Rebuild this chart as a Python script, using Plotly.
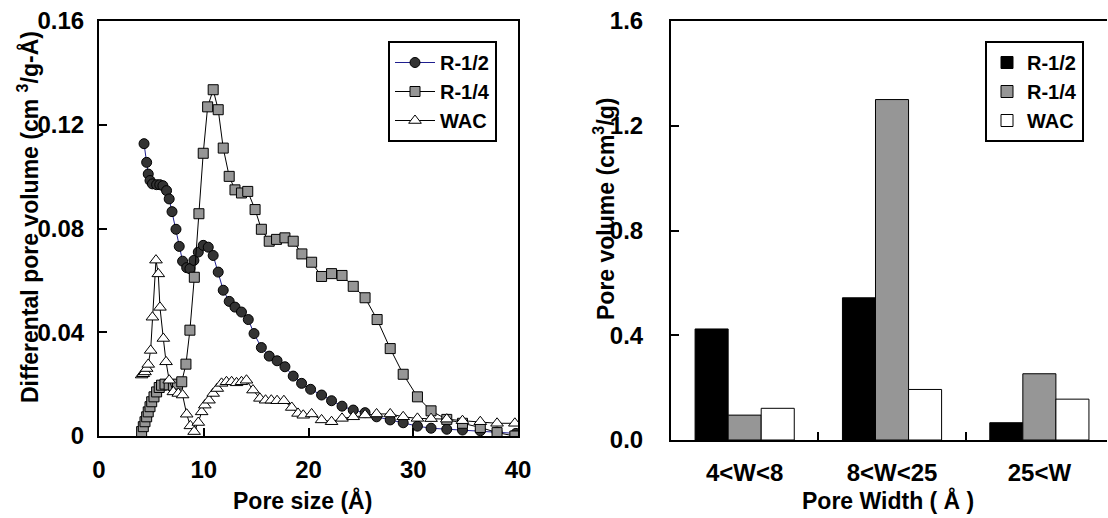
import plotly.graph_objects as go

# ---------------- data ----------------
r12_x = [4.3, 4.55, 4.7, 4.87, 5.1, 5.5, 5.8, 6.1, 6.45, 6.7, 6.97, 7.35, 7.66, 7.98, 8.37, 8.68,
         9.06, 9.48, 9.95, 10.43, 10.9, 11.38, 11.86, 12.43, 12.98, 13.6, 14.25, 14.8, 15.5, 16.25,
         17.0, 17.75, 18.54, 19.34, 20.2, 21.25, 22.2, 23.2, 24.27, 25.4, 26.5, 27.8, 29.04, 30.4,
         31.7, 33.2, 34.7, 36.4, 38.0, 39.8]
r12_y = [0.1127, 0.1055, 0.101, 0.0985, 0.0972, 0.0969, 0.0969, 0.0965, 0.0946, 0.0914, 0.0865,
         0.0797, 0.0731, 0.0674, 0.0649, 0.0645, 0.0677, 0.0709, 0.0735, 0.0728, 0.0696, 0.0632,
         0.0562, 0.0519, 0.0497, 0.0478, 0.0449, 0.0395, 0.0341, 0.0308, 0.029, 0.0267, 0.0231,
         0.0203, 0.018, 0.0158, 0.0136, 0.0115, 0.01, 0.009, 0.0074, 0.0062, 0.0051, 0.0038,
         0.003, 0.0026, 0.0023, 0.002, 0.0015, 0.001]

r14_x = [4.07, 4.23, 4.39, 4.55, 4.7, 4.87, 5.03, 5.25, 5.5, 5.75, 5.97, 6.3, 6.7, 7.1, 7.5, 7.9,
         8.3, 8.68, 9.1, 9.54, 9.95, 10.37, 10.9, 11.38, 11.86, 12.43, 12.98, 13.6, 14.2, 14.9,
         15.5, 16.25, 16.95, 17.75, 18.54, 19.37, 20.3, 21.25, 22.2, 23.2, 24.27, 25.4, 26.55,
         27.8, 29.04, 30.4, 31.7, 33.2, 34.7, 36.4, 38.0, 39.7]
r14_y = [0.0017, 0.0036, 0.0055, 0.0074, 0.0093, 0.0113, 0.0132, 0.0151, 0.017, 0.0187, 0.0196,
         0.02, 0.0197, 0.0195, 0.02, 0.0209, 0.0277, 0.0408, 0.0612, 0.0857, 0.109, 0.1269,
         0.1335, 0.1258, 0.111, 0.1001, 0.0949, 0.0937, 0.0943, 0.0873, 0.0797, 0.0751, 0.0758,
         0.0764, 0.0751, 0.0702, 0.067, 0.0615, 0.0626, 0.0619, 0.0577, 0.0533, 0.0449, 0.0337,
         0.0238, 0.0151, 0.0097, 0.0064, 0.0049, 0.0033, 0.0013, 0.0]

wac_x = [4.07, 4.23, 4.39, 4.55, 4.7, 4.93, 5.1, 5.44, 5.66, 5.82, 6.14, 6.4, 6.7, 7.1, 7.57, 7.98,
         8.37, 8.72, 9.08, 9.48, 9.8, 10.1, 10.5, 10.9, 11.29, 11.7, 12.17, 12.66, 13.13, 13.6,
         14.08, 14.7, 15.36, 15.9, 16.45, 17.0, 17.65, 18.4, 19.0, 19.5, 20.3, 21.25, 22.2, 23.2,
         24.27, 25.4, 26.5, 27.8, 29.04, 30.4, 31.7, 33.2, 34.7, 36.4, 38.0, 39.7]
wac_y = [0.0235, 0.024, 0.0247, 0.026, 0.0276, 0.033, 0.0458, 0.0678, 0.0625, 0.0496, 0.0376,
         0.0286, 0.0215, 0.017, 0.0164, 0.0158, 0.0084, 0.0039, 0.0017, 0.0052, 0.0093, 0.0119,
         0.0138, 0.0164, 0.0183, 0.0203, 0.0209, 0.0209, 0.0205, 0.0209, 0.0215, 0.0177, 0.0145,
         0.0138, 0.0138, 0.0136, 0.0136, 0.011, 0.0087, 0.008, 0.0085, 0.0062, 0.0055, 0.0068,
         0.0074, 0.0081, 0.0085, 0.0085, 0.0074, 0.0068, 0.0067, 0.0065, 0.0059, 0.0055, 0.0049,
         0.0049]

bar_categories = ["4<W<8", "8<W<25", "25<W"]
bar_r12 = [0.424, 0.543, 0.066]
bar_r14 = [0.095, 1.300, 0.253]
bar_wac = [0.121, 0.193, 0.156]

left_xticks = [0, 10, 20, 30, 40]
left_yticks = [0, 0.04, 0.08, 0.12, 0.16]
left_yticklabels = ["0", "0.04", "0.08", "0.12", "0.16"]
right_yticks = [0.0, 0.4, 0.8, 1.2, 1.6]

# ---------------- figure ----------------
W, H = 1108, 518
FONT = "Liberation Sans, Arial, sans-serif"
fig = go.Figure()

fig.add_trace(go.Scatter(x=r12_x, y=r12_y, name="R-1/2", mode="lines+markers",
                         line=dict(color="#1f1f8f", width=1),
                         marker=dict(symbol="circle", size=10, color="#333333",
                                     line=dict(color="black", width=1)),
                         xaxis="x", yaxis="y", legend="legend"))
fig.add_trace(go.Scatter(x=r14_x, y=r14_y, name="R-1/4", mode="lines+markers",
                         line=dict(color="black", width=1),
                         marker=dict(symbol="square", size=10, color="#969696",
                                     line=dict(color="black", width=1)),
                         xaxis="x", yaxis="y", legend="legend"))
fig.add_trace(go.Scatter(x=wac_x, y=wac_y, name="WAC", mode="lines+markers",
                         line=dict(color="black", width=1),
                         marker=dict(symbol="triangle-up", size=11, color="white",
                                     line=dict(color="black", width=1)),
                         xaxis="x", yaxis="y", legend="legend"))

fig.add_trace(go.Bar(x=bar_categories, y=bar_r12, name="R-1/2", marker=dict(color="black",
                     line=dict(color="black", width=1)), xaxis="x2", yaxis="y2", legend="legend2"))
fig.add_trace(go.Bar(x=bar_categories, y=bar_r14, name="R-1/4", marker=dict(color="#969696",
                     line=dict(color="black", width=1)), xaxis="x2", yaxis="y2", legend="legend2"))
fig.add_trace(go.Bar(x=bar_categories, y=bar_wac, name="WAC", marker=dict(color="white",
                     line=dict(color="black", width=1)), xaxis="x2", yaxis="y2", legend="legend2"))

tickfont = dict(family=FONT, size=24, color="black", weight="bold")
axis_common = dict(showgrid=False, zeroline=False, showline=True, linecolor="black",
                   linewidth=2, ticks="inside", ticklen=8, tickwidth=2, tickcolor="black",
                   tickfont=tickfont, automargin=False)

lx0, lx1 = 99 / W, 518 / W
ly0, ly1 = 1 - 436 / H, 1 - 21 / H
rx0, rx1 = 671 / W, 1107 / W
ry0, ry1 = 1 - 440 / H, 1 - 21 / H

legend_font = dict(family=FONT, size=20, color="black", weight="bold")
fig.update_layout(
    template="none",
    width=W, height=H, margin=dict(l=0, r=0, t=0, b=0, autoexpand=False),
    plot_bgcolor="white", paper_bgcolor="white",
    font=dict(family=FONT, color="black"),
    barmode="group", bargap=0.327, bargroupgap=0,
    xaxis=dict(domain=[lx0, lx1], range=[0, 40], tickvals=left_xticks, mirror=True,
               ticklabelstandoff=11, anchor="y", **axis_common),
    yaxis=dict(domain=[ly0, ly1], range=[0, 0.16], tickvals=left_yticks,
               ticktext=left_yticklabels, mirror=True,
               ticklabelstandoff=8, anchor="x", **axis_common),
    xaxis2=dict(domain=[rx0, rx1], range=[-0.5, 2.459], type="category", mirror=True,
                tickson="boundaries", ticklabelstandoff=10, anchor="y2", **axis_common),
    yaxis2=dict(domain=[ry0, ry1], range=[0, 1.6], tickvals=right_yticks, tickformat=".1f",
                mirror=False, ticklabelstandoff=21, anchor="x2", **axis_common),
    legend=dict(x=388 / W, y=1 - 41 / H, xanchor="left", yanchor="top",
                bgcolor="white", bordercolor="black", borderwidth=2,
                font=legend_font, itemwidth=40, tracegroupgap=0),
    legend2=dict(x=985 / W, y=1 - 41 / H, xanchor="left", yanchor="top",
                 bgcolor="white", bordercolor="black", borderwidth=2,
                 font=legend_font, itemwidth=30, tracegroupgap=0),
    showlegend=True,
)

title_font = dict(family=FONT, size=23, color="black", weight="bold")
fig.add_annotation(text="Pore size (Å)", x=302 / W, y=1 - 500 / H, xref="paper", yref="paper",
                   showarrow=False, font=title_font, xanchor="center", yanchor="middle")
fig.add_annotation(text="Differental pore volume (cm <sup>3</sup>/g-Å)", x=28 / W, y=1 - 217 / H,
                   xref="paper", yref="paper", showarrow=False, font=title_font, textangle=-90,
                   xanchor="center", yanchor="middle")
fig.add_annotation(text="Pore Width ( Å )", x=888 / W, y=1 - 500 / H, xref="paper", yref="paper",
                   showarrow=False, font=title_font, xanchor="center", yanchor="middle")
fig.add_annotation(text="Pore volume (cm<sup>3</sup>/g)", x=604 / W, y=1 - 209 / H,
                   xref="paper", yref="paper", showarrow=False, font=title_font, textangle=-90,
                   xanchor="center", yanchor="middle")

fig.write_html("out.html", config={"displayModeBar": False},
               post_script="document.body.style.margin='0';document.body.style.overflow='hidden';")
